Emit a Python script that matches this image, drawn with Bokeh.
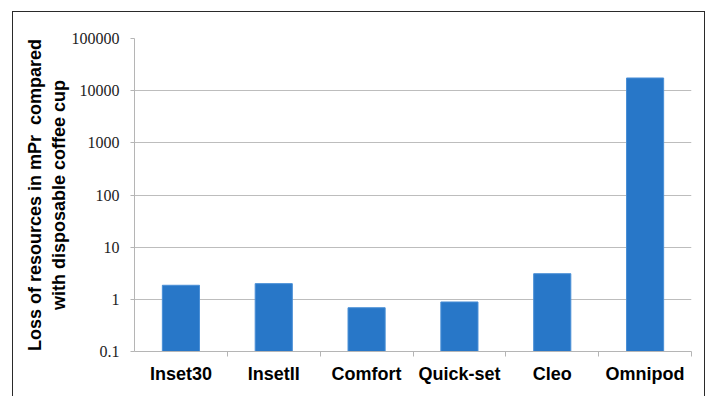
from bokeh.plotting import figure
from bokeh.models import Range1d, FixedTicker, CustomJSTickFormatter, ColumnDataSource
from bokeh.embed import file_html
from bokeh.resources import INLINE

categories = ["Inset30", "InsetII", "Comfort", "Quick-set", "Cleo", "Omnipod"]
values = [1.86, 2.0, 0.69, 0.89, 3.1, 17500]
y_ticks = [0.1, 1, 10, 100, 1000, 10000, 100000]
y_title = "Loss of resources in mPr\u00a0\u00a0compared\nwith disposable coffee cup"

xs = [i + 0.5 for i in range(len(categories))]
src = ColumnDataSource(dict(x=xs, top=values, bottom=[y_ticks[0]] * len(values), name=categories))

p = figure(width=693, height=385, y_axis_type="log", output_backend="svg",
           toolbar_location=None, x_range=Range1d(0, len(categories)),
           y_range=Range1d(y_ticks[0], y_ticks[-1]),
           min_border_left=121, min_border_right=15, min_border_top=26, min_border_bottom=46,
           margin=(11, 0, 0, 12),
           styles={"border": "1.5px solid #2a2a2a", "border-bottom": "none"})

p.vbar(x="x", top="top", bottom="bottom", width=0.4, source=src,
       fill_color="#2877c8", line_color="#4a8fd6", line_width=1)

p.outline_line_color = None
p.xgrid.grid_line_color = None
p.ygrid.grid_line_color = "#bdbdbd"
p.ygrid.grid_line_width = 1.2

# y axis
p.yaxis.ticker = FixedTicker(ticks=y_ticks, minor_ticks=[])
p.yaxis.formatter = CustomJSTickFormatter(code="return tick < 1 ? tick.toFixed(1) : tick.toFixed(0);")
p.yaxis.axis_line_color = "#b5b5b5"
p.yaxis.major_tick_line_color = "#b5b5b5"
p.yaxis.major_tick_out = 4
p.yaxis.major_tick_in = 0
p.yaxis.minor_tick_line_color = None
p.yaxis.major_label_text_font = "Liberation Serif"
p.yaxis.major_label_text_font_size = "16px"
p.yaxis.major_label_text_color = "#222222"
p.yaxis.major_label_standoff = 11
p.yaxis.axis_label = y_title
p.yaxis.axis_label_text_font = "Liberation Sans"
p.yaxis.axis_label_text_font_style = "bold"
p.yaxis.axis_label_text_font_size = "18px"
p.yaxis.axis_label_text_color = "#000000"
p.yaxis.axis_label_text_line_height = 1.2
p.yaxis.axis_label_standoff = 0

# x axis: labels at centers, ticks at category boundaries
p.xaxis.ticker = FixedTicker(ticks=xs, minor_ticks=list(range(1, len(categories) + 1)))
p.xaxis.formatter = CustomJSTickFormatter(args=dict(names=categories),
                                          code="return names[Math.floor(tick)];")
p.xaxis.axis_line_color = "#b5b5b5"
p.xaxis.major_tick_line_color = None
p.xaxis.major_tick_out = 0
p.xaxis.minor_tick_line_color = "#b5b5b5"
p.xaxis.minor_tick_out = 5
p.xaxis.minor_tick_in = 0
p.xaxis.major_label_text_font = "Liberation Sans"
p.xaxis.major_label_text_font_style = "bold"
p.xaxis.major_label_text_font_size = "18px"
p.xaxis.major_label_text_color = "#000000"
p.xaxis.major_label_standoff = 7

open("out.html", "w").write(file_html(p, INLINE))
